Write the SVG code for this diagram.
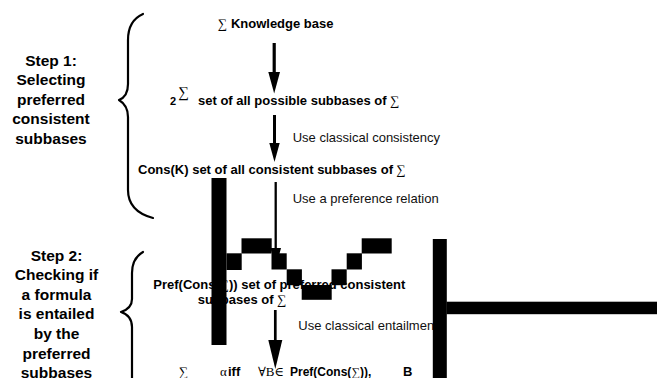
<svg xmlns="http://www.w3.org/2000/svg" width="657" height="378" viewBox="0 0 657 378">
<style>
  .b { font-family: "Liberation Sans", Arial, sans-serif; font-weight: bold; font-size: 13px; fill: #000; }
  .r { font-family: "Liberation Sans", Arial, sans-serif; font-size: 13px; fill: #111; }
  .sym { font-family: "Liberation Serif", "DejaVu Serif", serif; font-weight: normal; }
  .step { font-family: "Liberation Sans", Arial, sans-serif; font-weight: bold; font-size: 15.5px; fill: #000; text-anchor: middle; }
  .brace { fill: none; stroke: #000; stroke-width: 2.2; stroke-linecap: round; stroke-linejoin: round; }
  .shaft { stroke: #000; }
  .head { fill: #000; }
  .blk { fill: #000; }
</style>
<rect width="657" height="378" fill="#fff"/>

<g id="step1-label">
  <text class="step"><tspan x="51" y="65.5">Step 1:</tspan><tspan x="51" y="85.1">Selecting</tspan><tspan x="51" y="104.7">preferred</tspan><tspan x="51" y="124.3">consistent</tspan><tspan x="51" y="143.9">subbases</tspan></text>
</g>
<g id="step2-label">
  <text class="step"><tspan x="56.5" y="260.5">Step 2:</tspan><tspan x="56.5" y="280.1">Checking if</tspan><tspan x="56.5" y="299.7">a formula</tspan><tspan x="56.5" y="319.3">is entailed</tspan><tspan x="56.5" y="338.9">by the</tspan><tspan x="56.5" y="358.5">preferred</tspan><tspan x="56.5" y="378.1">subbases</tspan></text>
</g>

<g id="braces">
  <path class="brace" d="M143,14 C134,18 128,27 128,40 L128,84 C128,93 124,98 119,100 C124,103 128,107 128,117 L128,190 C128,206 138,214 153,218"/>
  <path class="brace" d="M143,252 C136,256 132,263 132,273 L132,299 C132,307 127,310 121,312 C127,314 132,318 132,327 L132,382"/>
</g>

<g id="knowledge-base">
  <text class="b" x="218" y="28"><tspan class="sym">∑</tspan> Knowledge base</text>
</g>
<g id="all-subbases">
  <text class="b" x="170" y="105" style="font-size:11px">2</text>
  <text class="b sym" x="178" y="97" style="font-size:15px">∑</text>
  <text class="b" x="198" y="105">set of all possible subbases of <tspan class="sym">∑</tspan></text>
</g>
<g id="consistent-subbases">
  <text class="b" x="138" y="173.5">Cons(K) set of all consistent subbases of <tspan class="sym">∑</tspan></text>
</g>
<g id="preferred-subbases">
  <text class="b" x="153.3" y="288.5">Pref(Cons(<tspan class="sym">∑</tspan>)) set of preferred consistent</text>
  <text class="b" x="197.7" y="304">subbases of <tspan class="sym">∑</tspan></text>
</g>
<g id="entailment">
  <text class="b sym" x="179" y="376">∑</text>
  <text class="b sym" x="220" y="376">α</text>
  <text class="b" x="228" y="376">iff</text>
  <text class="b sym" x="258" y="376">∀B∈</text>
  <text class="b" x="290" y="376" style="font-size:12px">Pref(Cons(<tspan class="sym">∑</tspan>)),</text>
  <text class="b" x="403" y="376">B</text>
</g>

<g id="connectors">
  <line class="shaft" x1="274.2" y1="43" x2="274.2" y2="75" stroke-width="3.2"/>
  <polygon class="head" points="268.3,72 280,72 274.2,93.5"/>
  <line class="shaft" x1="274.5" y1="115" x2="274.5" y2="146" stroke-width="3"/>
  <polygon class="head" points="269.3,143 279.7,143 274.5,162"/>
  <line class="shaft" x1="275.7" y1="182" x2="275.7" y2="250" stroke-width="2.3"/>
  <polygon class="head" points="270.5,248 281,248 275.7,268"/>
  <line class="shaft" x1="275.3" y1="310" x2="275.3" y2="343" stroke-width="2.7"/>
  <polygon class="head" points="268.3,340 282.3,340 275.3,369"/>
  <text class="r" x="292.7" y="142">Use classical consistency</text>
  <text class="r" x="292.7" y="203">Use a preference relation</text>
  <text class="r" x="298.3" y="330">Use classical entailment</text>
</g>

<g id="blocks">
  <rect class="blk" x="211.5" y="178" width="15" height="167"/>
  <rect class="blk" x="226.5" y="253.3" width="15.2" height="16.7"/>
  <rect class="blk" x="241.5" y="238.3" width="30.2" height="15.2"/>
  <rect class="blk" x="271.5" y="253.3" width="15.2" height="16.2"/>
  <rect class="blk" x="286.7" y="269.3" width="15.2" height="15.9"/>
  <rect class="blk" x="301.7" y="285" width="30" height="14.8"/>
  <rect class="blk" x="331.5" y="269.3" width="15.2" height="15.9"/>
  <rect class="blk" x="346.7" y="253.3" width="15.2" height="16.2"/>
  <rect class="blk" x="361.7" y="238.3" width="30" height="15.2"/>
  <rect class="blk" x="432.8" y="239" width="14" height="139"/>
  <rect class="blk" x="446.5" y="301.7" width="210.5" height="12.5"/>
</g>
</svg>
